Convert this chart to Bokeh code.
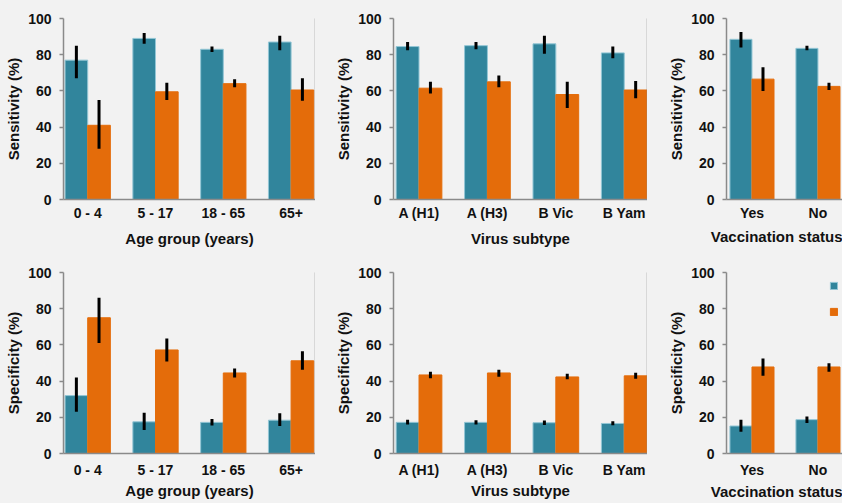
import numpy as np
from bokeh.plotting import figure
from bokeh.layouts import row, column
from bokeh.models import (Range1d, FixedTicker, LinearAxis, Legend, LegendItem,
                          Spacer, Title)
from bokeh.embed import file_html
from bokeh.resources import INLINE

# ---------------- data ----------------
age_groups = ["0 - 4", "5 - 17", "18 - 65", "65+"]
virus_subtypes = ["A (H1)", "A (H3)", "B Vic", "B Yam"]
vacc_status = ["Yes", "No"]

# Sensitivity (%) - series 1 (teal) and series 2 (orange), with CI bounds
sens_age_s1 = [77, 89, 83, 87]
sens_age_s1_lo = [67, 86, 81.5, 82.5]
sens_age_s1_hi = [85, 92, 84.5, 90.5]
sens_age_s2 = [41, 59.5, 64, 60.5]
sens_age_s2_lo = [28, 55, 62, 54.5]
sens_age_s2_hi = [55, 64.5, 66.5, 67]

sens_vir_s1 = [84.5, 85, 86, 81]
sens_vir_s1_lo = [82.5, 83, 80.5, 78]
sens_vir_s1_hi = [87, 87, 90.5, 84.5]
sens_vir_s2 = [61.5, 65, 58, 60.5]
sens_vir_s2_lo = [58.5, 62, 50.5, 56]
sens_vir_s2_hi = [65, 68.5, 65, 65.5]

sens_vac_s1 = [88.5, 83.5]
sens_vac_s1_lo = [84, 82.5]
sens_vac_s1_hi = [92.5, 85]
sens_vac_s2 = [66.5, 62.5]
sens_vac_s2_lo = [60, 60.5]
sens_vac_s2_hi = [73, 64.5]

# Specificity (%)
spec_age_s1 = [32, 17.5, 17.2, 18.4]
spec_age_s1_lo = [23, 13, 15.5, 15.2]
spec_age_s1_hi = [42, 22.5, 19, 22.3]
spec_age_s2 = [75, 57.2, 44.5, 51.2]
spec_age_s2_lo = [61, 50.8, 42, 46.3]
spec_age_s2_hi = [86, 63.5, 47, 56.5]

spec_vir_s1 = [17.2, 17.2, 17, 16.6]
spec_vir_s1_lo = [16, 16, 15.8, 15.6]
spec_vir_s1_hi = [18.6, 18.4, 18.2, 17.8]
spec_vir_s2 = [43.4, 44.5, 42.3, 42.9]
spec_vir_s2_lo = [41.6, 42.4, 41, 41.3]
spec_vir_s2_hi = [45.2, 46.3, 44, 44.6]

spec_vac_s1 = [15.2, 18.7]
spec_vac_s1_lo = [12, 16.8]
spec_vac_s1_hi = [18.7, 20.5]
spec_vac_s2 = [47.8, 47.8]
spec_vac_s2_lo = [43, 45.2]
spec_vac_s2_hi = [52.5, 49.8]

y_ticks = [0, 20, 40, 60, 80, 100]

# ---------------- style ----------------
TEAL = "#31859C"
TEAL_EDGE = "#93C6D5"
ORANGE = "#E46C0A"
BG = "#F2F2F2"
AXIS = "#8A8A8A"
TXT = "#111111"
FONT = "Liberation Sans"


def panel(cats, s1, s1lo, s1hi, s2, s2lo, s2hi, ylabel, xlabel,
          xr, bw, right_line, tick_standoff, xlab_standoff, top_border,
          frame_w, frame_h, xlab_right=False):
    p = figure(output_backend="svg", toolbar_location=None, tools="",
               frame_width=frame_w, frame_height=frame_h,
               min_border_left=0, min_border_right=0,
               min_border_top=top_border, min_border_bottom=0,
               x_range=Range1d(*xr), y_range=Range1d(0, 100),
               background_fill_color=BG, border_fill_color=BG,
               outline_line_color=None)
    p.grid.visible = False
    idx = np.arange(len(cats))
    r1 = p.vbar(x=idx - bw / 2, top=s1, bottom=0, width=bw,
                fill_color=TEAL, line_color=TEAL_EDGE, line_width=1)
    r2 = p.vbar(x=idx + bw / 2, top=s2, bottom=0, width=bw,
                fill_color=ORANGE, line_color=ORANGE, line_width=1)
    p.segment(x0=idx - bw / 2, y0=s1lo, x1=idx - bw / 2, y1=s1hi,
              line_color="black", line_width=3)
    p.segment(x0=idx + bw / 2, y0=s2lo, x1=idx + bw / 2, y1=s2hi,
              line_color="black", line_width=3)

    ya = p.yaxis[0]
    ya.ticker = FixedTicker(ticks=y_ticks)
    ya.minor_tick_line_color = None
    ya.major_tick_in = 0
    ya.major_tick_out = 4
    ya.major_tick_line_color = AXIS
    ya.major_tick_line_width = 1.5
    ya.axis_line_color = AXIS
    ya.axis_line_width = 1.5
    ya.major_label_standoff = 8
    ya.major_label_text_font = FONT
    ya.major_label_text_font_style = "bold"
    ya.major_label_text_font_size = "14px"
    ya.major_label_text_color = TXT
    ya.axis_label = ylabel
    ya.axis_label_standoff = 3
    ya.axis_label_text_font = FONT
    ya.axis_label_text_font_style = "bold"
    ya.axis_label_text_font_size = "15px"
    ya.axis_label_text_color = TXT

    xa = p.xaxis[0]
    xa.ticker = FixedTicker(ticks=list(range(len(cats))))
    xa.major_label_overrides = {i: c for i, c in enumerate(cats)}
    xa.minor_tick_line_color = None
    xa.major_tick_line_color = None
    xa.major_tick_in = 0
    xa.major_tick_out = 0
    xa.axis_line_color = AXIS
    xa.axis_line_width = 1.5
    xa.major_label_standoff = tick_standoff
    xa.major_label_text_font = FONT
    xa.major_label_text_font_style = "bold"
    xa.major_label_text_font_size = "14px"
    xa.major_label_text_color = TXT
    if xlab_right:
        # axis title right-aligned to the frame edge (as in the cropped original)
        t = Title(text=xlabel, align="right", standoff=max(xlab_standoff - 2, 0),
                  text_font=FONT, text_font_style="bold",
                  text_font_size="15px", text_color=TXT)
        p.add_layout(t, "below")
    else:
        xa.axis_label = xlabel
        xa.axis_label_standoff = xlab_standoff
        xa.axis_label_text_font = FONT
        xa.axis_label_text_font_style = "bold"
        xa.axis_label_text_font_size = "15px"
        xa.axis_label_text_color = TXT

    if right_line:
        ra = LinearAxis(ticker=FixedTicker(ticks=[]), major_tick_out=0,
                        major_tick_in=0, minor_tick_out=0, minor_tick_in=0,
                        major_label_standoff=0,
                        major_label_text_font_size="0px",
                        axis_line_color=AXIS, axis_line_width=1.5)
        p.add_layout(ra, "right")
    return p, r1, r2


XR1 = (-0.357, 3.360)
XR2 = (-0.373, 3.340)
XR3 = (-0.386, 1.372)
BW = 0.334
FH = 181

p1, _, _ = panel(age_groups, sens_age_s1, sens_age_s1_lo, sens_age_s1_hi,
                 sens_age_s2, sens_age_s2_lo, sens_age_s2_hi,
                 "Sensitivity (%)", "Age group (years)", XR1, BW, True,
                 5, 6, 18, 252, FH)
p2, _, _ = panel(virus_subtypes, sens_vir_s1, sens_vir_s1_lo, sens_vir_s1_hi,
                 sens_vir_s2, sens_vir_s2_lo, sens_vir_s2_hi,
                 "Sensitivity (%)", "Virus subtype", XR2, BW, True,
                 5, 6, 18, 254, FH)
p3, _, _ = panel(vacc_status, sens_vac_s1, sens_vac_s1_lo, sens_vac_s1_hi,
                 sens_vac_s2, sens_vac_s2_lo, sens_vac_s2_hi,
                 "Sensitivity (%)", "Vaccination status", XR3, BW, False,
                 5, 6, 18, 116, FH, True)

p4, _, _ = panel(age_groups, spec_age_s1, spec_age_s1_lo, spec_age_s1_hi,
                 spec_age_s2, spec_age_s2_lo, spec_age_s2_hi,
                 "Specificity (%)", "Age group (years)", XR1, BW, True,
                 8, 1, 23, 252, FH)
p5, _, _ = panel(virus_subtypes, spec_vir_s1, spec_vir_s1_lo, spec_vir_s1_hi,
                 spec_vir_s2, spec_vir_s2_lo, spec_vir_s2_hi,
                 "Specificity (%)", "Virus subtype", XR2, BW, True,
                 8, 1, 23, 254, FH)
p6, r1, r2 = panel(vacc_status, spec_vac_s1, spec_vac_s1_lo, spec_vac_s1_hi,
                   spec_vac_s2, spec_vac_s2_lo, spec_vac_s2_hi,
                   "Specificity (%)", "Vaccination status", XR3, BW, False,
                   8, 1, 23, 116, FH, True)

legend = Legend(items=[LegendItem(label=" ", renderers=[r1]),
                       LegendItem(label=" ", renderers=[r2])],
                location=(103, 137), orientation="vertical",
                padding=0, margin=0, spacing=17,
                glyph_width=9, glyph_height=9,
                label_width=0, label_height=9, label_standoff=0,
                label_text_font_size="7px",
                border_line_color=None, background_fill_alpha=0)
p6.add_layout(legend)

bgs = {"background-color": BG}
row1 = row(Spacer(width=2), p1, Spacer(width=17), p2, Spacer(width=18), p3, styles=bgs)
row2 = row(Spacer(width=2), p4, Spacer(width=17), p5, Spacer(width=18), p6, styles=bgs)
layout = column(row1, row2, Spacer(height=6), styles=bgs)

open("out.html", "w").write(file_html(layout, INLINE))
